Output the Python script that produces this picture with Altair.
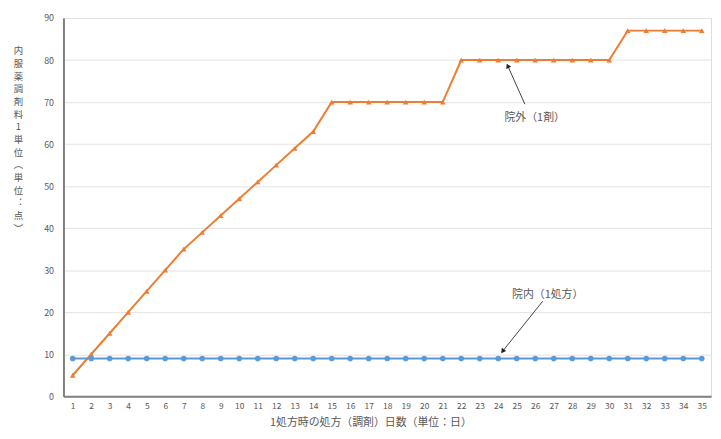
import altair as alt
import pandas as pd

days = list(range(1, 36))
ingai = [5, 10, 15, 20, 25, 30, 35, 39, 43, 47, 51, 55, 59, 63,
         70, 70, 70, 70, 70, 70, 70,
         80, 80, 80, 80, 80, 80, 80, 80, 80,
         87, 87, 87, 87, 87]
innai = [9] * 35
series_names = ["院外（1剤）", "院内（1処方）"]
colors = ["#ED7D31", "#5B9BD5"]
y_ticks = [0, 10, 20, 30, 40, 50, 60, 70, 80, 90]
y_title = ["内", "服", "薬", "調", "剤", "料", "1", "単", "位", "︵", "単", "位", "︓", "点", "︶"]
x_title = "1処方時の処方（調剤）日数（単位：日）"

FONT = "Noto Sans CJK JP"
GRAY = "#595959"

df_out = pd.DataFrame({"day": days, "value": ingai, "series": series_names[0]})
df_in = pd.DataFrame({"day": days, "value": innai, "series": series_names[1]})

xs = alt.Scale(domain=[0.5, 35.5], nice=False, zero=False)
ys = alt.Scale(domain=[0, 90], nice=False)

x_axis = alt.Axis(values=days, labelAngle=0, ticks=False, grid=False, title=x_title,
                  labelOverlap=False, labelFlush=False,
                  labelFont=FONT, labelFontSize=8.5, labelColor=GRAY, labelPadding=5,
                  titleFont=FONT, titleFontSize=11, titleFontWeight="normal", titleColor=GRAY,
                  titlePadding=7, titleX=310, domainColor="#7f7f7f", domainWidth=2)
y_axis = alt.Axis(values=y_ticks, ticks=False, grid=True, gridColor="#e3e3e3", gridWidth=1,
                  labelOverlap=False,
                  title=y_title, titleAngle=0, titleX=-46, titleY=28, titleAlign="center",
                  titleBaseline="top", titleLineHeight=12.8,
                  titleFont=FONT, titleFontSize=9.5, titleFontWeight="normal", titleColor=GRAY,
                  labelFont=FONT, labelFontSize=9, labelColor=GRAY, labelPadding=10,
                  domainColor="#7f7f7f", domainWidth=2)

def X(field):
    return alt.X(field, scale=xs, axis=x_axis)

def Y(field):
    return alt.Y(field, scale=ys, axis=y_axis)

def series_layer(df, color, shape):
    base = alt.Chart(df).encode(x=X("day:Q"), y=Y("value:Q"))
    line = base.mark_line(color=color, strokeWidth=2)
    pts = base.mark_point(color=color, fill=color, filled=True, shape=shape, size=32, opacity=1)
    return line + pts

out_layer = series_layer(df_out, colors[0], "triangle-up")
in_layer = series_layer(df_in, colors[1], "circle")

ann = pd.DataFrame({
    "label": series_names,
    "tx": [25.97, 26.67],
    "ty": [66.2, 24.0],
    "x1": [25.44, 26.40],
    "y1": [69.5, 22.6],
    "x2": [24.53, 24.26],
    "y2": [78.46, 10.84],
    "ang": [336, 216],
})

texts = alt.Chart(ann).mark_text(font=FONT, fontSize=11, color=GRAY).encode(
    x=X("tx:Q"), y=Y("ty:Q"), text="label:N")
rules = alt.Chart(ann).mark_rule(color="#404040", strokeWidth=1).encode(
    x=X("x1:Q"), y=Y("y1:Q"), x2="x2:Q", y2="y2:Q")
heads = alt.Chart(ann).mark_point(shape="triangle", filled=True, color="#202020", size=30, opacity=1).encode(
    x=X("x2:Q"), y=Y("y2:Q"), angle=alt.Angle("ang:Q", scale=None))

chart = alt.layer(out_layer, in_layer, rules, heads, texts).properties(
    width=654, height=382,
    autosize=alt.AutoSizeParams(type="none"),
    padding={"left": 56, "top": 8, "right": 2, "bottom": 38},
).configure_view(stroke="#a6a6a6", strokeWidth=1.5).configure_axis(
    labelOverlap=False
).configure(background="white")

chart.save("out.html", embed_options={"renderer": "svg", "actions": False})
